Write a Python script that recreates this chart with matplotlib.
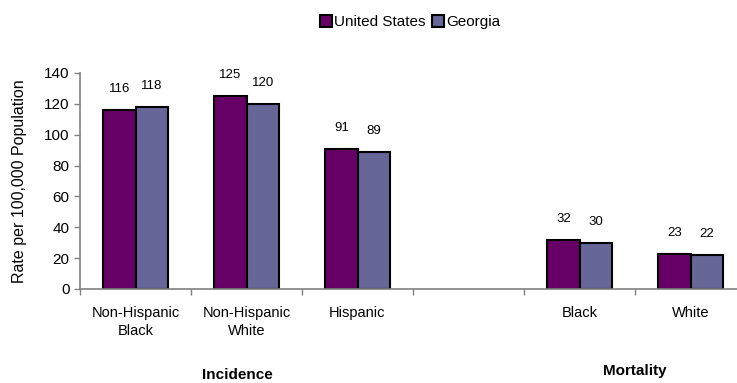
import numpy as np
import matplotlib.pyplot as plt

plt.rcParams['font.family'] = ['Liberation Sans', 'DejaVu Sans']

# data (empty category = gap between the two groups)
categories = ['Non-Hispanic\nBlack', 'Non-Hispanic\nWhite', 'Hispanic', '', 'Black', 'White']
us_rates = [116, 125, 91, None, 32, 23]
ga_rates = [118, 120, 89, None, 30, 22]
series_names = ['United States', 'Georgia']
group_names = ['Incidence', 'Mortality']

us_color = '#660066'
ga_color = '#666699'

fig = plt.figure(figsize=(7.37, 3.83), dpi=100)
ax = fig.add_axes([80 / 737, 94 / 383, 666 / 737, 216 / 383])

x = np.arange(len(categories))
w = 0.29
idx = [i for i, v in enumerate(us_rates) if v is not None]
us_vals = [us_rates[i] for i in idx]
ga_vals = [ga_rates[i] for i in idx]

b1 = ax.bar(x[idx] - w / 2, us_vals, w, color=us_color, edgecolor='black', linewidth=1.5, label=series_names[0])
b2 = ax.bar(x[idx] + w / 2, ga_vals, w, color=ga_color, edgecolor='black', linewidth=1.5, label=series_names[1])

for bars in (b1, b2):
    for r in bars:
        ax.annotate(f'{r.get_height():.0f}', (r.get_x() + r.get_width() / 2, r.get_height()),
                    xytext=(0, 15), textcoords='offset points', ha='center', va='center', fontsize=9.5)

ax.set_xlim(-0.5, len(categories) - 0.5)
ax.set_ylim(0, 140)
ax.set_yticks(range(0, 141, 20))
ax.tick_params(axis='y', labelsize=11, length=4, color='#808080', width=1)

ax.set_xticks(x)
ax.set_xticklabels(categories, fontsize=10.5, linespacing=1.35)
ax.set_xticks(np.arange(-0.5, len(categories), 1), minor=True)
ax.tick_params(axis='x', which='major', length=0, pad=12)
ax.tick_params(axis='x', which='minor', length=4, color='#808080', width=1)

for s in ['top', 'right']:
    ax.spines[s].set_visible(False)
for s in ['left', 'bottom']:
    ax.spines[s].set_color('#808080')
    ax.spines[s].set_linewidth(1.2)

ax.set_ylabel('Rate per 100,000 Population', fontsize=11.5, labelpad=12)

fig.text(237 / 737, 1 - 375 / 383, group_names[0], ha='center', va='center', fontsize=11, fontweight='bold')
fig.text(635 / 737, 1 - 371 / 383, group_names[1], ha='center', va='center', fontsize=11, fontweight='bold')

fig.legend(handles=[b1, b2], loc='center', bbox_to_anchor=(410 / 737, 1 - 22 / 383), ncol=2,
           frameon=False, fontsize=11, handlelength=0.8, handleheight=0.8,
           handletextpad=0.15, columnspacing=0.4)

fig.savefig('out.png', dpi=100)
